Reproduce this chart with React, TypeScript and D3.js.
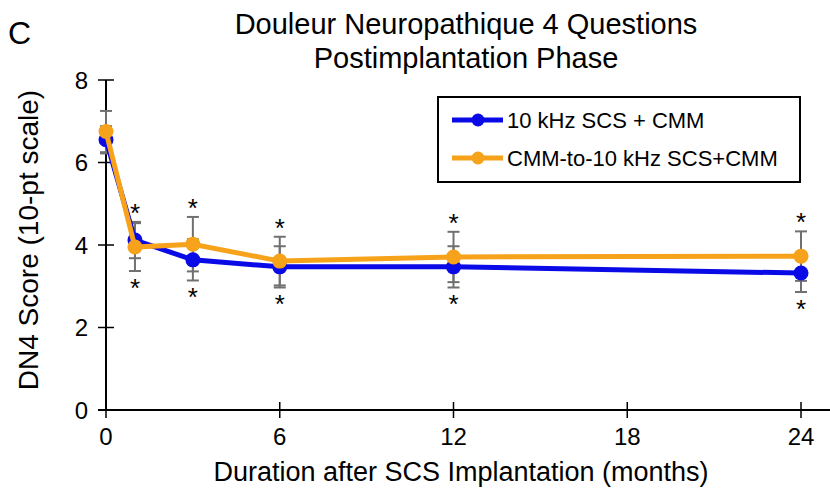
import React from "react";
import * as d3 from "d3";

const months = [0, 1, 3, 6, 12, 24];
const blueMean = [6.55, 4.12, 3.64, 3.47, 3.47, 3.32];
const blueErr = [0.33, 0.44, 0.5, 0.5, 0.5, 0.46];
const orangeMean = [6.75, 3.95, 4.02, 3.61, 3.71, 3.73];
const orangeErr = [0.5, 0.58, 0.66, 0.59, 0.61, 0.6];
const starMonths = [1, 3, 6, 12, 24];
const xTicks = [0, 6, 12, 18, 24];
const yTicks = [0, 2, 4, 6, 8];
const seriesNames = ["10 kHz SCS + CMM", "CMM-to-10 kHz SCS+CMM"];
const colors = ["#0a0ae6", "#f7a21b"];

export default function App() {
  const W = 830, H = 488;
  const x = d3.scaleLinear().domain([0, 24]).range([106, 801]);
  const y = d3.scaleLinear().domain([0, 8]).range([410, 80]);
  const font = "'Liberation Sans', Arial, sans-serif";
  const series = [
    { mean: blueMean, err: blueErr, color: colors[0] },
    { mean: orangeMean, err: orangeErr, color: colors[1] },
  ];
  const line = d3.line<number>().x((_, i) => x(months[i])).y((d) => y(d));
  return (
    <svg width={W} height={H} style={{ position: "absolute", left: 0, top: 0 }} fontFamily={font}>
      <rect width={W} height={H} fill="#fff" />
      <text x={8} y={44} fontSize={32}>C</text>
      <text x={466} y={34} fontSize={29} textAnchor="middle">Douleur Neuropathique 4 Questions</text>
      <text x={466} y={68} fontSize={29} textAnchor="middle">Postimplantation Phase</text>
      <line x1={x(0)} x2={x(0)} y1={y(8)} y2={y(0)} stroke="#000" strokeWidth={2} />
      <line x1={x(0) - 8} x2={830} y1={y(0)} y2={y(0)} stroke="#000" strokeWidth={2} />
      {yTicks.map((t) => (
        <g key={"y" + t}>
          <line x1={x(0) - 8} x2={x(0) + 8} y1={y(t)} y2={y(t)} stroke="#000" strokeWidth={1.5} />
          <text x={88} y={y(t) + 8.5} fontSize={24} textAnchor="end">{t}</text>
        </g>
      ))}
      {xTicks.map((t) => (
        <g key={"x" + t}>
          <line x1={x(t)} x2={x(t)} y1={y(0) - 8} y2={y(0) + 8} stroke="#000" strokeWidth={1.5} />
          <text x={x(t)} y={445} fontSize={24} textAnchor="middle">{t}</text>
        </g>
      ))}
      <text x={461} y={481} fontSize={27} textAnchor="middle">Duration after SCS Implantation (months)</text>
      <text transform={`translate(38,240) rotate(-90)`} fontSize={28} textAnchor="middle">DN4 Score (10-pt scale)</text>
      {series.map((s, si) =>
        months.map((m, i) => {
          const cx = x(m);
          const top = y(s.mean[i] + s.err[i]);
          const bot = y(s.mean[i] - s.err[i]);
          return (
            <g key={`e${si}-${i}`} stroke="#707070" strokeWidth={2}>
              <line x1={cx} x2={cx} y1={top} y2={bot} />
              <line x1={cx - 6} x2={cx + 6} y1={top} y2={top} />
              <line x1={cx - 6} x2={cx + 6} y1={bot} y2={bot} />
            </g>
          );
        })
      )}
      {series.map((s, si) => (
        <g key={"s" + si}>
          <path d={line(s.mean) || ""} fill="none" stroke={s.color} strokeWidth={5} />
          {s.mean.map((v, i) => (
            <circle key={i} cx={x(months[i])} cy={y(v)} r={7.5} fill={s.color} />
          ))}
        </g>
      ))}
      {starMonths.map((m) => {
        const i = months.indexOf(m);
        const hi = Math.max(blueMean[i] + blueErr[i], orangeMean[i] + orangeErr[i]);
        const lo = Math.min(blueMean[i] - blueErr[i], orangeMean[i] - orangeErr[i]);
        return (
          <g key={"st" + m}>
            <text x={x(m)} y={y(hi)} fontSize={26} textAnchor="middle">*</text>
            <text x={x(m)} y={y(lo) + 26} fontSize={26} textAnchor="middle">*</text>
          </g>
        );
      })}
      <rect x={438} y={97} width={362} height={85} fill="#fff" stroke="#000" strokeWidth={2} />
      {seriesNames.map((n, i) => {
        const ly = 120 + i * 38;
        return (
          <g key={"l" + i}>
            <line x1={452} x2={503} y1={ly} y2={ly} stroke={colors[i]} strokeWidth={5} />
            <circle cx={478} cy={ly} r={6.5} fill={colors[i]} />
            <text x={507} y={ly + 8} fontSize={22}>{n}</text>
          </g>
        );
      })}
    </svg>
  );
}
